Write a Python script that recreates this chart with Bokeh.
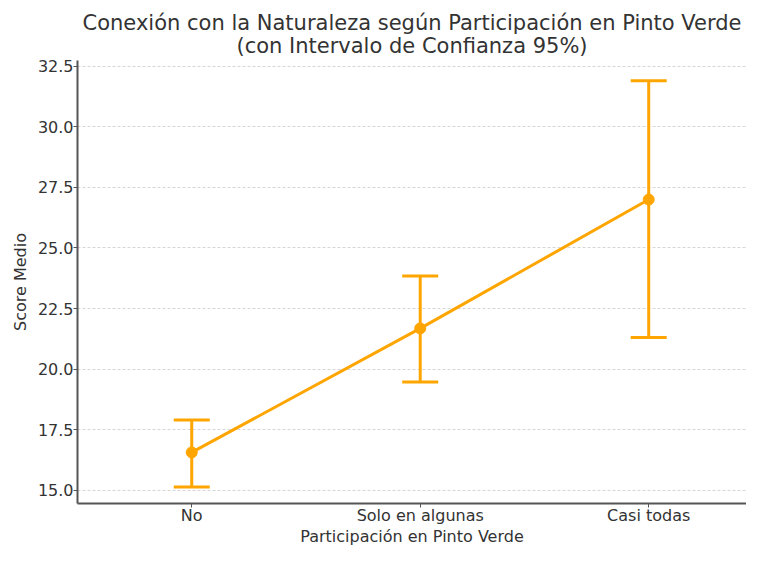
from bokeh.plotting import figure
from bokeh.models import (ColumnDataSource, Range1d, Whisker, TeeHead,
                          FixedTicker, NumeralTickFormatter, Title)
from bokeh.embed import file_html
from bokeh.resources import INLINE

categories = ["No", "Solo en algunas", "Casi todas"]
means = [16.56, 21.68, 27.0]
ci_lower = [15.13, 19.47, 21.30]
ci_upper = [17.90, 23.84, 31.90]
y_ticks = [15.0, 17.5, 20.0, 22.5, 25.0, 27.5, 30.0, 32.5]

FONT = "DejaVu Sans"
ORANGE = "#FFA500"
TEXT = "#333333"
SPINE = "#555555"

xpos = list(range(len(categories)))
source = ColumnDataSource(data=dict(x=xpos, mean=means, lower=ci_lower, upper=ci_upper))

p = figure(width=746, height=548, output_backend="svg", toolbar_location=None,
           x_range=Range1d(-0.5, 2.428),
           y_range=Range1d(14.45, 32.74),
           min_border_left=77, min_border_right=0, min_border_top=60, min_border_bottom=30)

p.add_layout(Title(text="(con Intervalo de Confianza 95%)", align="center",
                   text_font=FONT, text_font_size="21px", text_color=TEXT,
                   text_font_style="normal", standoff=6), "above")
p.add_layout(Title(text="Conexión con la Naturaleza según Participación en Pinto Verde",
                   align="center", text_font=FONT, text_font_size="21px",
                   text_color=TEXT, text_font_style="normal", standoff=-13), "above")

p.outline_line_color = None
p.background_fill_color = "white"
p.border_fill_color = "white"

p.xgrid.grid_line_color = None
p.ygrid.grid_line_color = "#cccccc"
p.ygrid.grid_line_dash = "3 2"
p.ygrid.grid_line_width = 0.8

for ax in (p.xaxis, p.yaxis):
    ax.axis_line_color = SPINE
    ax.axis_line_width = 2
    ax.major_tick_line_color = SPINE
    ax.major_tick_in = 0
    ax.major_tick_out = 4
    ax.minor_tick_line_color = None
    ax.major_label_text_font = FONT
    ax.major_label_text_font_size = "16px"
    ax.major_label_text_color = TEXT
    ax.axis_label_text_font = FONT
    ax.axis_label_text_font_size = "16px"
    ax.axis_label_text_color = TEXT
    ax.axis_label_text_font_style = "normal"

p.yaxis.ticker = FixedTicker(ticks=y_ticks)
p.yaxis.formatter = NumeralTickFormatter(format="0.0")
p.yaxis.major_label_standoff = 0
p.yaxis.axis_label = "Score Medio"
p.yaxis.axis_label_standoff = 5

p.xaxis.ticker = FixedTicker(ticks=xpos)
p.xaxis.major_label_overrides = {i: c for i, c in zip(xpos, categories)}
p.xaxis.axis_label = "Participación en Pinto Verde"
p.xaxis.major_label_standoff = -2
p.xaxis.axis_label_standoff = -1

whisker = Whisker(base="x", lower="lower", upper="upper", source=source, dimension="height",
                  line_color=ORANGE, line_width=3,
                  upper_head=TeeHead(size=36, line_color=ORANGE, line_width=3),
                  lower_head=TeeHead(size=36, line_color=ORANGE, line_width=3))
p.add_layout(whisker)

p.line(x="x", y="mean", source=source, line_color=ORANGE, line_width=3)
p.scatter(x="x", y="mean", source=source, size=11, fill_color=ORANGE, line_color=ORANGE)

open("out.html", "w").write(file_html(p, INLINE))
